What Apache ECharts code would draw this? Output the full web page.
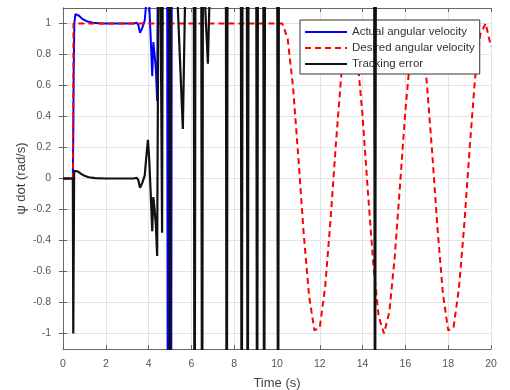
<!DOCTYPE html>
<html><head><meta charset="utf-8">
<script src="https://cdn.jsdelivr.net/npm/echarts@6/dist/echarts.min.js"></script>
<style>html,body{margin:0;padding:0;background:#fff}#c{width:510px;height:390px}</style>
</head><body><div id="c"></div>
<script>
// ---- data ----
const xTicks = [0, 2, 4, 6, 8, 10, 12, 14, 16, 18, 20];
const yTicks = [-1, -0.8, -0.6, -0.4, -0.2, 0, 0.2, 0.4, 0.6, 0.8, 1];

const actualT = [0, 0.46, 0.48, 0.5, 0.53, 0.58, 0.65, 0.75, 0.9, 1.1, 1.4, 1.8, 3.3, 3.45, 3.52, 3.6, 3.65, 3.7, 3.75, 3.82, 3.9, 3.97, 4.03, 4.1, 4.17, 4.22, 4.28, 4.34, 4.4, 4.5, 4.85, 4.9, 4.95, 5.05, 5.1, 5.2];
const actualV = [0, 0, 0.3, 0.7, 1.0, 1.06, 1.07, 1.05, 1.03, 1.015, 1.005, 1.0, 1.0, 1.005, 0.99, 0.94, 0.93, 0.97, 0.96, 1.02, 1.15, 1.25, 1.12, 0.9, 0.66, 0.88, 0.8, 0.7, 0.5, 3.5, 3.5, -2.5, 3.5, -2.5, 3.5, 3.5];

const desiredT = [0, 0.47, 0.49, 10.25, 10.5, 10.75, 11.0, 11.25, 11.5, 11.75, 12.0, 12.25, 12.5, 12.75, 13.0, 13.25, 13.5, 13.75, 14.0, 14.25, 14.5, 14.75, 15.0, 15.25, 15.5, 15.75, 16.0, 16.25, 16.5, 16.75, 17.0, 17.25, 17.5, 17.75, 18.0, 18.25, 18.5, 18.75, 19.0, 19.25, 19.5, 19.75, 20.0];
const desiredV = [0, 0, 1, 1, 0.9, 0.59, 0.13, -0.36, -0.76, -0.98, -0.96, -0.7, -0.27, 0.22, 0.66, 0.94, 0.99, 0.79, 0.4, -0.09, -0.55, -0.89, -1.0, -0.86, -0.51, -0.04, 0.44, 0.82, 0.99, 0.94, 0.62, 0.17, -0.32, -0.74, -0.98, -0.96, -0.71, -0.3, 0.19, 0.64, 0.93, 1.0, 0.85];

const errorT = [0, 0.46, 0.48, 0.5, 0.52, 0.58, 0.7, 0.85, 1.0, 1.2, 1.5, 2.0, 3.3, 3.45, 3.52, 3.6, 3.65, 3.7, 3.75, 3.82, 3.9, 3.97, 4.03, 4.1, 4.17, 4.22, 4.28, 4.34, 4.4, 4.5, 4.58, 4.63, 4.68, 4.95, 5.0, 5.05, 5.36, 5.6, 5.7, 6.1, 6.15, 6.2, 6.45, 6.5, 6.55, 6.64, 6.77, 6.84, 7.6, 7.65, 7.7, 8.3, 8.35, 8.4, 8.58, 8.63, 8.68, 9.02, 9.07, 9.12, 9.35, 9.4, 9.45, 10.0, 10.05, 10.1, 14.53, 14.58, 14.63, 20];
const errorV = [0, 0, -1.0, -1.0, 0.05, 0.06, 0.045, 0.03, 0.018, 0.008, 0.002, 0, 0, 0.005, -0.01, -0.06, -0.07, -0.03, -0.04, 0.02, 0.15, 0.25, 0.12, -0.1, -0.34, -0.12, -0.2, -0.3, -0.5, 2.5, 2.5, -0.35, 2.5, 2.5, -2.5, 2.5, 1.12, 0.32, 1.12, 2.5, -2.5, 2.5, 2.5, -2.5, 2.5, 1.12, 0.74, 1.12, 2.5, -2.5, 2.5, 2.5, -2.5, 2.5, 2.5, -2.5, 2.5, 2.5, -2.5, 2.5, 2.5, -2.5, 2.5, 2.5, -2.5, 2.5, 2.5, -2.5, 2.5, 2.5];

const zip = (a, b) => a.map((t, i) => [t, b[i]]);
const FONT = "'Liberation Sans', Arial, sans-serif";
const AX = '#666';

const chart = echarts.init(document.getElementById('c'), null, {renderer: 'canvas'});
const yBase = {
  type: 'value', min: -1.1, max: 1.1,
  axisLine: {show: true, lineStyle: {color: AX, width: 1}},
  axisTick: {show: true, inside: true, length: 4, customValues: yTicks, lineStyle: {color: AX}},
  splitLine: {show: false},
};
const xBase = {
  type: 'value', min: 0, max: 20, interval: 2,
  axisLine: {show: true, onZero: false, lineStyle: {color: AX, width: 1}},
  axisTick: {show: true, inside: true, length: 4, lineStyle: {color: AX}},
  splitLine: {show: false},
};
chart.setOption({
  animation: false,
  backgroundColor: '#fff',
  grid: {left: 63, top: 8, right: 19, bottom: 41, containLabel: false, outerBoundsMode: 'none'},
  xAxis: [
    Object.assign({}, xBase, {
      position: 'bottom',
      name: 'Time (s)', nameLocation: 'middle', nameGap: 28, nameMoveOverlap: false,
      nameTextStyle: {fontFamily: FONT, fontSize: 13, color: '#444'},
      axisLabel: {fontFamily: FONT, fontSize: 10.5, color: '#555', margin: 10},
      splitLine: {show: true, lineStyle: {color: '#e4e4e4', width: 1}}
    }),
    Object.assign({}, xBase, {position: 'top', axisLabel: {show: false}})
  ],
  yAxis: [
    Object.assign({}, yBase, {
      position: 'left',
      name: 'ψ dot (rad/s)', nameLocation: 'middle', nameGap: 35, nameRotate: 90, nameMoveOverlap: false,
      nameTextStyle: {fontFamily: FONT, fontSize: 13, color: '#444'},
      axisLabel: {customValues: yTicks, fontFamily: FONT, fontSize: 10.5, color: '#555', margin: 12, formatter: v => String(v)},
      splitLine: {show: true, lineStyle: {color: '#e4e4e4', width: 1}}
    }),
    Object.assign({}, yBase, {position: 'right', axisLabel: {show: false}})
  ],
  legend: {
    left: 300, top: 20, orient: 'vertical',
    backgroundColor: '#fff', borderColor: '#333', borderWidth: 1,
    padding: [6, 5, 4, 4], itemGap: 4, itemWidth: 42, itemHeight: 12,
    itemStyle: {opacity: 0},
    textStyle: {fontFamily: FONT, fontSize: 11.5, color: '#333'},
    data: ['Actual angular velocity', 'Desired angular velocity', 'Tracking error']
  },
  series: [
    {name: 'Actual angular velocity', type: 'line', symbol: 'none', clip: true,
     data: zip(actualT, actualV), lineStyle: {color: '#0000ff', width: 2}, itemStyle: {color: '#0000ff'}, z: 2},
    {name: 'Desired angular velocity', type: 'line', symbol: 'none', clip: true,
     data: zip(desiredT, desiredV), lineStyle: {color: '#ff0000', width: 2, type: [6, 4]}, itemStyle: {color: '#ff0000'}, z: 3},
    {name: 'Tracking error', type: 'line', symbol: 'none', clip: true,
     data: zip(errorT, errorV), lineStyle: {color: '#111', width: 2.2}, itemStyle: {color: '#111'}, z: 4}
  ]
});
</script>
</body></html>
